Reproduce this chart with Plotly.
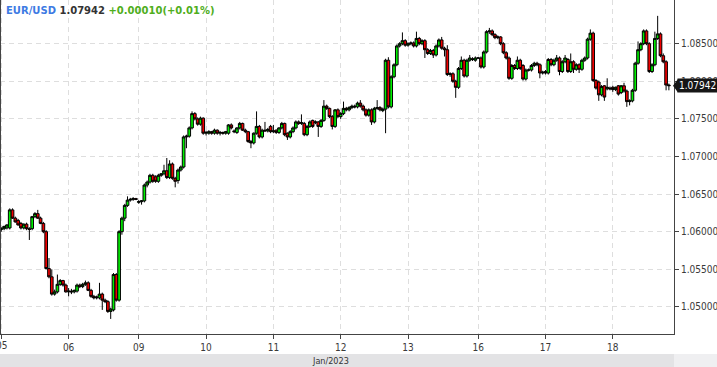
import plotly.graph_objects as go

# Hourly EUR/USD candles, Jan 5 - Jan 18 2023 (prices)
day_labels = ['05', '06', '09', '10', '11', '12', '13', '16', '17', '18']
day_starts = [0, 24, 49, 73, 97, 121, 145, 170, 194, 218]

open_ = [
    # Jan 05
    1.0603, 1.0604, 1.0605, 1.0605, 1.0629, 1.0618, 1.0615, 1.0611, 1.0605, 1.0610, 1.0604, 1.0604,
    1.0620, 1.0624, 1.0618, 1.0611, 1.0600, 1.0551, 1.0540, 1.0517, 1.0520, 1.0530, 1.0535, 1.0529,
    # Jan 06
    1.0520, 1.0521, 1.0520, 1.0521, 1.0529, 1.0527, 1.0530, 1.0532, 1.0522, 1.0514, 1.0512, 1.0512,
    1.0517, 1.0509, 1.0507, 1.0494, 1.0496, 1.0543, 1.0509, 1.0600, 1.0618, 1.0635, 1.0642, 1.0643, 1.0644,
    # Jan 09
    1.0639, 1.0640, 1.0641, 1.0662, 1.0666, 1.0675, 1.0673, 1.0667, 1.0675, 1.0677, 1.0681, 1.0672,
    1.0690, 1.0671, 1.0668, 1.0682, 1.0686, 1.0726, 1.0727, 1.0738, 1.0757, 1.0750, 1.0743, 1.0751,
    # Jan 10
    1.0731, 1.0731, 1.0733, 1.0731, 1.0735, 1.0731, 1.0732, 1.0731, 1.0731, 1.0742, 1.0734, 1.0732,
    1.0738, 1.0744, 1.0735, 1.0733, 1.0720, 1.0718, 1.0731, 1.0740, 1.0726, 1.0735, 1.0734, 1.0740,
    # Jan 11
    1.0733, 1.0735, 1.0732, 1.0738, 1.0744, 1.0731, 1.0726, 1.0733, 1.0738, 1.0746, 1.0744, 1.0744,
    1.0729, 1.0740, 1.0748, 1.0745, 1.0746, 1.0740, 1.0748, 1.0767, 1.0764, 1.0753, 1.0740, 1.0762,
    # Jan 12
    1.0753, 1.0757, 1.0764, 1.0762, 1.0765, 1.0767, 1.0766, 1.0771, 1.0767, 1.0762, 1.0755, 1.0762,
    1.0746, 1.0764, 1.0765, 1.0761, 1.0763, 1.0828, 1.0766, 1.0806, 1.0822, 1.0847, 1.0850, 1.0854,
    # Jan 13
    1.0848, 1.0850, 1.0851, 1.0847, 1.0857, 1.0850, 1.0854, 1.0842, 1.0837, 1.0841, 1.0835, 1.0847,
    1.0855, 1.0844, 1.0842, 1.0809, 1.0810, 1.0800, 1.0792, 1.0817, 1.0828, 1.0807, 1.0828, 1.0830, 1.0828,
    # Jan 16
    1.0831, 1.0831, 1.0819, 1.0839, 1.0866, 1.0867, 1.0862, 1.0858, 1.0859, 1.0850, 1.0838, 1.0831,
    1.0804, 1.0821, 1.0817, 1.0828, 1.0821, 1.0803, 1.0815, 1.0815, 1.0821, 1.0824, 1.0822, 1.0811,
    # Jan 17
    1.0813, 1.0811, 1.0829, 1.0822, 1.0828, 1.0831, 1.0813, 1.0826, 1.0829, 1.0813, 1.0826, 1.0816,
    1.0822, 1.0816, 1.0828, 1.0831, 1.0856, 1.0864, 1.0801, 1.0799, 1.0782, 1.0794, 1.0790, 1.0791,
    # Jan 18
    1.0792, 1.0789, 1.0794, 1.0785, 1.0794, 1.0787, 1.0773, 1.0774, 1.0788, 1.0824, 1.0842, 1.0850,
    1.0867, 1.0850, 1.0813, 1.0822, 1.0857, 1.0863, 1.0834, 1.0826, 1.0795,
]

high = [
    # Jan 05
    1.0606, 1.0608, 1.0610, 1.0631, 1.0631, 1.0620, 1.0617, 1.0613, 1.0611, 1.0612, 1.0606, 1.0621,
    1.0626, 1.0629, 1.0620, 1.0613, 1.0602, 1.0565, 1.0550, 1.0523, 1.0543, 1.0537, 1.0536, 1.0531,
    # Jan 06
    1.0525, 1.0524, 1.0523, 1.0531, 1.0531, 1.0532, 1.0535, 1.0534, 1.0524, 1.0516, 1.0515, 1.0532,
    1.0519, 1.0511, 1.0509, 1.0499, 1.0545, 1.0545, 1.0602, 1.0620, 1.0637, 1.0647, 1.0645, 1.0646, 1.0645,
    # Jan 09
    1.0642, 1.0642, 1.0664, 1.0668, 1.0677, 1.0677, 1.0675, 1.0677, 1.0678, 1.0689, 1.0698, 1.0695,
    1.0692, 1.0673, 1.0684, 1.0688, 1.0728, 1.0729, 1.0740, 1.0760, 1.0759, 1.0752, 1.0753, 1.0752,
    # Jan 10
    1.0734, 1.0735, 1.0734, 1.0737, 1.0736, 1.0734, 1.0733, 1.0734, 1.0743, 1.0744, 1.0736, 1.0739,
    1.0746, 1.0745, 1.0737, 1.0734, 1.0722, 1.0732, 1.0760, 1.0742, 1.0737, 1.0746, 1.0738, 1.0742,
    # Jan 11
    1.0742, 1.0736, 1.0739, 1.0746, 1.0745, 1.0732, 1.0735, 1.0740, 1.0748, 1.0748, 1.0756, 1.0746,
    1.0742, 1.0748, 1.0749, 1.0748, 1.0747, 1.0750, 1.0775, 1.0769, 1.0765, 1.0755, 1.0763, 1.0764,
    # Jan 12
    1.0759, 1.0773, 1.0766, 1.0767, 1.0769, 1.0769, 1.0773, 1.0775, 1.0769, 1.0764, 1.0764, 1.0764,
    1.0766, 1.0775, 1.0767, 1.0765, 1.0830, 1.0832, 1.0808, 1.0824, 1.0849, 1.0852, 1.0865, 1.0856,
    # Jan 13
    1.0852, 1.0853, 1.0853, 1.0866, 1.0859, 1.0856, 1.0856, 1.0844, 1.0843, 1.0843, 1.0849, 1.0857,
    1.0859, 1.0846, 1.0848, 1.0812, 1.0812, 1.0802, 1.0819, 1.0833, 1.0830, 1.0830, 1.0835, 1.0832, 1.0833,
    # Jan 16
    1.0832, 1.0833, 1.0841, 1.0868, 1.0871, 1.0869, 1.0864, 1.0861, 1.0860, 1.0852, 1.0840, 1.0833,
    1.0823, 1.0823, 1.0833, 1.0830, 1.0823, 1.0817, 1.0817, 1.0823, 1.0826, 1.0826, 1.0824, 1.0814,
    # Jan 17
    1.0815, 1.0831, 1.0831, 1.0830, 1.0835, 1.0833, 1.0828, 1.0835, 1.0831, 1.0837, 1.0828, 1.0824,
    1.0824, 1.0830, 1.0833, 1.0858, 1.0869, 1.0866, 1.0803, 1.0801, 1.0795, 1.0795, 1.0804, 1.0793,
    # Jan 18
    1.0794, 1.0793, 1.0795, 1.0795, 1.0798, 1.0789, 1.0776, 1.0790, 1.0826, 1.0853, 1.0852, 1.0869,
    1.0869, 1.0852, 1.0824, 1.0866, 1.0887, 1.0865, 1.0837, 1.0828, 1.0797,
]

low = [
    # Jan 05
    1.0600, 1.0602, 1.0603, 1.0603, 1.0617, 1.0612, 1.0608, 1.0603, 1.0603, 1.0602, 1.0589, 1.0602,
    1.0618, 1.0617, 1.0610, 1.0598, 1.0550, 1.0538, 1.0515, 1.0515, 1.0518, 1.0528, 1.0527, 1.0519,
    # Jan 06
    1.0514, 1.0517, 1.0518, 1.0519, 1.0525, 1.0525, 1.0528, 1.0521, 1.0512, 1.0510, 1.0510, 1.0510,
    1.0496, 1.0505, 1.0492, 1.0484, 1.0494, 1.0507, 1.0507, 1.0596, 1.0614, 1.0633, 1.0640, 1.0641, 1.0642,
    # Jan 09
    1.0637, 1.0636, 1.0639, 1.0659, 1.0664, 1.0665, 1.0665, 1.0665, 1.0673, 1.0675, 1.0670, 1.0670,
    1.0669, 1.0659, 1.0664, 1.0680, 1.0684, 1.0711, 1.0725, 1.0736, 1.0748, 1.0741, 1.0741, 1.0729,
    # Jan 10
    1.0728, 1.0729, 1.0729, 1.0729, 1.0729, 1.0728, 1.0729, 1.0729, 1.0729, 1.0736, 1.0731, 1.0730,
    1.0736, 1.0734, 1.0731, 1.0718, 1.0711, 1.0716, 1.0729, 1.0724, 1.0724, 1.0733, 1.0732, 1.0731,
    # Jan 11
    1.0731, 1.0730, 1.0730, 1.0736, 1.0727, 1.0722, 1.0724, 1.0731, 1.0736, 1.0742, 1.0742, 1.0727,
    1.0727, 1.0738, 1.0738, 1.0743, 1.0726, 1.0738, 1.0746, 1.0762, 1.0751, 1.0736, 1.0738, 1.0751,
    # Jan 12
    1.0750, 1.0755, 1.0760, 1.0760, 1.0763, 1.0764, 1.0764, 1.0765, 1.0760, 1.0753, 1.0753, 1.0742,
    1.0744, 1.0762, 1.0760, 1.0759, 1.0731, 1.0764, 1.0764, 1.0804, 1.0820, 1.0845, 1.0848, 1.0846,
    # Jan 13
    1.0846, 1.0848, 1.0845, 1.0845, 1.0848, 1.0848, 1.0831, 1.0835, 1.0835, 1.0831, 1.0833, 1.0845,
    1.0842, 1.0833, 1.0807, 1.0806, 1.0798, 1.0778, 1.0790, 1.0815, 1.0805, 1.0805, 1.0826, 1.0827, 1.0826,
    # Jan 16
    1.0830, 1.0817, 1.0817, 1.0837, 1.0863, 1.0860, 1.0856, 1.0856, 1.0848, 1.0836, 1.0829, 1.0802,
    1.0802, 1.0815, 1.0815, 1.0815, 1.0801, 1.0801, 1.0813, 1.0813, 1.0819, 1.0820, 1.0804, 1.0809,
    # Jan 17
    1.0809, 1.0809, 1.0820, 1.0820, 1.0826, 1.0808, 1.0811, 1.0824, 1.0811, 1.0811, 1.0811, 1.0814,
    1.0811, 1.0814, 1.0826, 1.0829, 1.0854, 1.0799, 1.0789, 1.0774, 1.0780, 1.0774, 1.0788, 1.0788,
    # Jan 18
    1.0786, 1.0787, 1.0781, 1.0783, 1.0785, 1.0766, 1.0768, 1.0772, 1.0786, 1.0822, 1.0840, 1.0848,
    1.0848, 1.0811, 1.0811, 1.0820, 1.0855, 1.0832, 1.0824, 1.0788, 1.0788,
]

close_ = [
    # Jan 05
    1.0604, 1.0607, 1.0609, 1.0629, 1.0618, 1.0613, 1.0609, 1.0605, 1.0610, 1.0604, 1.0603, 1.0620,
    1.0624, 1.0618, 1.0611, 1.0600, 1.0551, 1.0540, 1.0517, 1.0520, 1.0530, 1.0535, 1.0529, 1.0520,
    # Jan 06
    1.0521, 1.0520, 1.0522, 1.0529, 1.0527, 1.0530, 1.0532, 1.0522, 1.0514, 1.0512, 1.0513, 1.0517,
    1.0509, 1.0507, 1.0494, 1.0497, 1.0543, 1.0509, 1.0600, 1.0618, 1.0635, 1.0642, 1.0643, 1.0644, 1.0643,
    # Jan 09
    1.0640, 1.0641, 1.0662, 1.0666, 1.0675, 1.0667, 1.0667, 1.0675, 1.0677, 1.0681, 1.0672, 1.0690,
    1.0671, 1.0667, 1.0682, 1.0686, 1.0726, 1.0727, 1.0738, 1.0757, 1.0750, 1.0743, 1.0751, 1.0731,
    # Jan 10
    1.0732, 1.0733, 1.0731, 1.0735, 1.0731, 1.0732, 1.0731, 1.0733, 1.0742, 1.0738, 1.0733, 1.0738,
    1.0744, 1.0735, 1.0733, 1.0720, 1.0718, 1.0731, 1.0740, 1.0726, 1.0735, 1.0734, 1.0736, 1.0733,
    # Jan 11
    1.0734, 1.0732, 1.0738, 1.0744, 1.0729, 1.0726, 1.0733, 1.0738, 1.0746, 1.0744, 1.0745, 1.0729,
    1.0740, 1.0746, 1.0740, 1.0746, 1.0740, 1.0748, 1.0767, 1.0764, 1.0753, 1.0740, 1.0762, 1.0753,
    # Jan 12
    1.0757, 1.0764, 1.0762, 1.0765, 1.0767, 1.0766, 1.0771, 1.0767, 1.0762, 1.0755, 1.0762, 1.0746,
    1.0764, 1.0765, 1.0762, 1.0763, 1.0828, 1.0766, 1.0806, 1.0822, 1.0847, 1.0850, 1.0854, 1.0848,
    # Jan 13
    1.0850, 1.0851, 1.0847, 1.0857, 1.0850, 1.0854, 1.0842, 1.0837, 1.0841, 1.0835, 1.0847, 1.0855,
    1.0844, 1.0842, 1.0809, 1.0810, 1.0800, 1.0792, 1.0817, 1.0828, 1.0807, 1.0828, 1.0831, 1.0829, 1.0831,
    # Jan 16
    1.0831, 1.0819, 1.0839, 1.0866, 1.0867, 1.0862, 1.0858, 1.0859, 1.0850, 1.0838, 1.0831, 1.0804,
    1.0821, 1.0817, 1.0828, 1.0817, 1.0803, 1.0815, 1.0815, 1.0821, 1.0824, 1.0822, 1.0811, 1.0812,
    # Jan 17
    1.0811, 1.0829, 1.0822, 1.0828, 1.0831, 1.0813, 1.0826, 1.0831, 1.0813, 1.0826, 1.0816, 1.0822,
    1.0816, 1.0828, 1.0831, 1.0856, 1.0864, 1.0801, 1.0791, 1.0782, 1.0793, 1.0779, 1.0792, 1.0790,
    # Jan 18
    1.0789, 1.0792, 1.0783, 1.0794, 1.0787, 1.0773, 1.0774, 1.0788, 1.0824, 1.0842, 1.0850, 1.0867,
    1.0850, 1.0813, 1.0822, 1.0857, 1.0863, 1.0834, 1.0826, 1.0795, 1.07942,
]

y_ticks = [1.050, 1.055, 1.060, 1.065, 1.070, 1.075, 1.080, 1.085]
y_tick_text = ['1.05000', '1.05500', '1.06000', '1.06500', '1.07000', '1.07500', '1.08000', '1.08500']
last_price = 1.07942
title_symbol = 'EUR/USD'
title_price = '1.07942'
title_change = '+0.00010(+0.01%)'
month_label = 'Jan/2023'

W, H = 717, 367
ML, MR, MT, MB = 0, 43, 0, 33
PW = W - ML - MR
PH = H - MT - MB

x = list(range(len(close_)))

AX_FONT = dict(family='DejaVu Sans Condensed, DejaVu Sans, sans-serif', size=10, color='#3a3a3a')

fig = go.Figure(go.Candlestick(
    x=x, open=open_, high=high, low=low, close=close_,
    increasing=dict(line=dict(color='#000000', width=1), fillcolor='#00f000'),
    decreasing=dict(line=dict(color='#000000', width=1), fillcolor='#f00000'),
    whiskerwidth=0, hoverinfo='skip', showlegend=False,
))

fig.update_layout(
    width=W, height=H,
    margin=dict(l=ML, r=MR, t=MT, b=MB, pad=0, autoexpand=False),
    paper_bgcolor='#ffffff', plot_bgcolor='#ffffff',
    boxgap=0.05, boxgroupgap=0,
    showlegend=False,
    xaxis=dict(
        range=[-0.4635, 239.82],
        tickmode='array', tickvals=day_starts, ticktext=day_labels,
        showgrid=True, gridcolor='#dedede', griddash='5px,4px', gridwidth=1,
        ticks='outside', ticklen=4, tickcolor='#444', tickwidth=1,
        showline=True, linecolor='#444', linewidth=1,
        zeroline=False, rangeslider=dict(visible=False), automargin=False,
        tickfont=AX_FONT, fixedrange=True,
    ),
    yaxis=dict(
        side='right',
        range=[1.046396, 1.090811],
        tickmode='array', tickvals=y_ticks, ticktext=y_tick_text,
        showgrid=True, gridcolor='#dedede', griddash='5px,4px', gridwidth=1,
        ticks='outside', ticklen=4, tickcolor='#444', tickwidth=1,
        showline=True, linecolor='#444', linewidth=1, automargin=False,
        zeroline=False, tickfont=AX_FONT, fixedrange=True,
    ),
)

# first day label sits at the very left edge and is clipped by the page, as in the reference
fig.add_annotation(text=day_labels[0], xref='x', yref='paper', x=day_starts[0], y=-11 / PH,
                   showarrow=False, xanchor='center', yanchor='middle', font=AX_FONT)

# left border of the plot
fig.add_shape(type='line', xref='paper', yref='paper', x0=0, x1=0, y0=0, y1=1,
              line=dict(color='#444', width=2))
# bottom month band
fig.add_shape(type='rect', xref='paper', yref='paper', x0=0, x1=1.0,
              y0=-33 / PH, y1=-20 / PH, fillcolor='#e3e3e5', line=dict(width=0), layer='below')
fig.add_shape(type='rect', xref='paper', yref='paper', x0=1.0, x1=W / PW,
              y0=-33 / PH, y1=-20 / PH, fillcolor='#efeff1', line=dict(width=0), layer='below')
fig.add_annotation(text=month_label, xref='paper', yref='paper', x=330 / PW, y=-26.5 / PH,
                   showarrow=False, xanchor='center', yanchor='middle',
                   font=dict(family='DejaVu Sans Condensed, DejaVu Sans, sans-serif', size=9, color='#333'))

# title
fig.add_annotation(
    text=(f"<b><span style='color:#3d7ae3'>{title_symbol}</span> "
          f"<span style='color:#333333'>{title_price}</span> "
          f"<span style='color:#4fae1c'>{title_change}</span></b>"),
    xref='paper', yref='paper', x=4 / PW, y=(PH - 11) / PH,
    showarrow=False, xanchor='left', yanchor='middle',
    font=dict(family='DejaVu Sans, sans-serif', size=10),
)

# last price tag (covers the 1.08000 label, as in the reference)
fig.add_annotation(text=f'{last_price:.5f}', xref='paper', yref='y', x=(PW + 3) / PW, y=last_price,
                   showarrow=False, xanchor='left', yanchor='middle',
                   bgcolor='#161616', borderpad=1,
                   font=dict(family='DejaVu Sans Condensed, DejaVu Sans, sans-serif', size=10, color='#ffffff'))
dy = 0.0009
fig.add_shape(type='path', xref='paper', yref='y',
              path=f'M {(PW - 1) / PW} {last_price} L {(PW + 4) / PW} {last_price + dy} L {(PW + 4) / PW} {last_price - dy} Z',
              fillcolor='#161616', line=dict(width=0))

fig.write_html('out.html')
